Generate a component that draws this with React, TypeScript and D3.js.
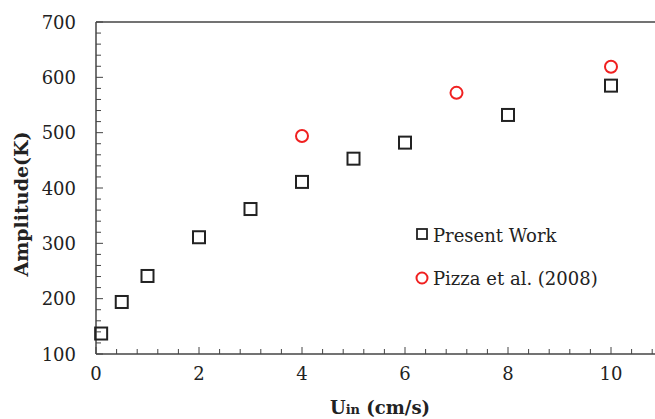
import React from "react";
import * as d3 from "d3";

const presentX = [0.1, 0.5, 1, 2, 3, 4, 5, 6, 8, 10];
const presentY = [137, 194, 241, 311, 362, 411, 453, 482, 532, 585];
const pizzaX = [4, 7, 10];
const pizzaY = [494, 572, 619];
const xTicks = [0, 2, 4, 6, 8, 10];
const yTicks = [100, 200, 300, 400, 500, 600, 700];

const W = 655, H = 419;
const left = 96, top = 22, bottom = 354;
const font = "'DejaVu Serif', serif";

export default function App() {
  const x = d3.scaleLinear().domain([0, 12]).range([left, left + 12 * 51.5]);
  const y = d3.scaleLinear().domain([100, 700]).range([bottom, top]);
  const xMinor = d3.range(0, 12.001, 0.4).filter((v) => Math.abs(v / 2 - Math.round(v / 2)) > 1e-6);
  const yMinor = d3.range(100, 700, 20).filter((v) => v % 100 !== 0);
  const axisColor = "#444";
  return (
    <svg width={W} height={H} style={{ position: "absolute", left: 0, top: 0, background: "#fff" }}>
      <line x1={left} x2={W} y1={top} y2={top} stroke={axisColor} strokeWidth={1.5} />
      <line x1={left} x2={left} y1={top} y2={bottom} stroke={axisColor} strokeWidth={1.5} />
      <line x1={left} x2={W} y1={bottom} y2={bottom} stroke={axisColor} strokeWidth={1.5} />
      {yTicks.map((t) => (
        <g key={"yt" + t}>
          <line x1={left} x2={left + 7} y1={y(t)} y2={y(t)} stroke={axisColor} strokeWidth={1} />
          <text x={76} y={y(t) + 6.5} textAnchor="end" fontFamily={font} fontSize={18} fill="#222">{t}</text>
        </g>
      ))}
      {yMinor.map((t) => (
        <line key={"ym" + t} x1={left} x2={left + 5} y1={y(t)} y2={y(t)} stroke={axisColor} strokeWidth={1} />
      ))}
      {xTicks.map((t) => (
        <g key={"xt" + t}>
          <line x1={x(t)} x2={x(t)} y1={bottom} y2={bottom - 7} stroke={axisColor} strokeWidth={1} />
          <text x={x(t)} y={380} textAnchor="middle" fontFamily={font} fontSize={18} fill="#222">{t}</text>
        </g>
      ))}
      {xMinor.map((t) => (
        <line key={"xm" + t} x1={x(t)} x2={x(t)} y1={bottom} y2={bottom - 5} stroke={axisColor} strokeWidth={1} />
      ))}
      <text x={380} y={414} textAnchor="middle" fontFamily={font} fontWeight="bold" fontSize={18} fill="#222">
        U<tspan fontSize={13}>in</tspan> (cm/s)
      </text>
      <text transform={`translate(28,204) rotate(-90)`} textAnchor="middle" fontFamily={font} fontWeight="bold" fontSize={19} fill="#222">
        Amplitude(K)
      </text>
      {presentX.map((v, i) => (
        <rect key={"p" + i} x={x(v) - 6} y={y(presentY[i]) - 6} width={12} height={12} fill="none" stroke="#222" strokeWidth={2} />
      ))}
      {pizzaX.map((v, i) => (
        <circle key={"z" + i} cx={x(v)} cy={y(pizzaY[i])} r={6} fill="none" stroke="#f02020" strokeWidth={2} />
      ))}
      <rect x={417} y={229} width={10} height={10} fill="none" stroke="#222" strokeWidth={1.8} />
      <text x={433} y={242} fontFamily={font} fontSize={18} fill="#222">Present Work</text>
      <circle cx={422} cy={278} r={5.5} fill="none" stroke="#f02020" strokeWidth={2} />
      <text x={433} y={285} fontFamily={font} fontSize={18} fill="#222">Pizza et al. (2008)</text>
    </svg>
  );
}
